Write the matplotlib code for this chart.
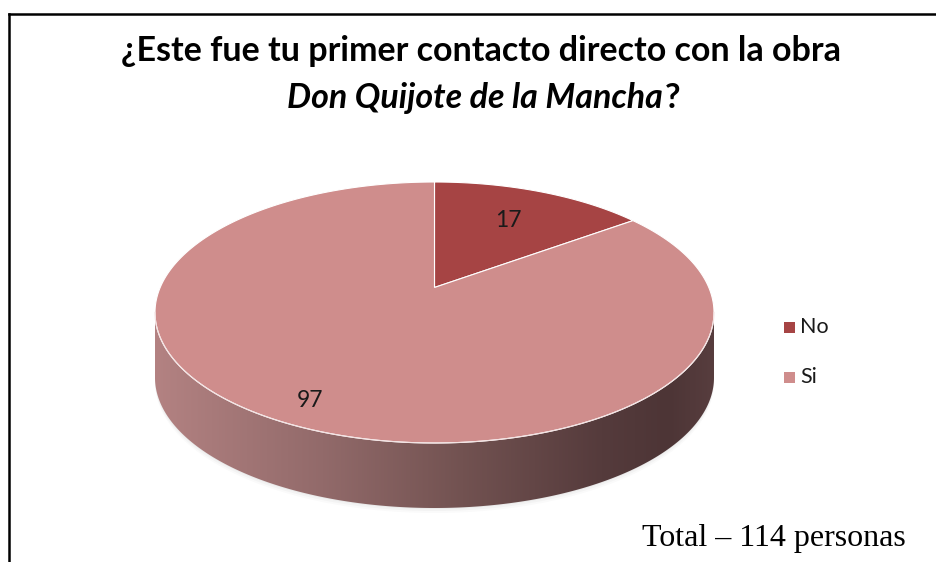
import numpy as np
import matplotlib
matplotlib.use("Agg")
import matplotlib.pyplot as plt
from matplotlib.patches import Polygon, Rectangle
from matplotlib.lines import Line2D
from matplotlib.colors import LinearSegmentedColormap

# data
categories = ["No", "Si"]
counts = [17, 97]
slice_colors = ["#A64444", "#CF8D8C"]
title_line1 = "¿Este fue tu primer contacto directo con la obra"
title_line2 = "Don Quijote de la Mancha"
total_note = "Total \u2013 114 personas"

W, H = 936, 562
fig = plt.figure(figsize=(W / 100, H / 100), dpi=100)
ax = fig.add_axes([0, 0, 1, 1])

# pie geometry in pixels
left, right, top, bottom = 155, 714, 182, 443
depth = 65
elev = np.radians(28)
dist = 4.6


def project(phi, r=1.0):
    X = r * np.sin(phi)
    Y = r * np.cos(phi)
    w = dist + Y * np.cos(elev)
    return X / w, Y * np.sin(elev) / w


full = np.linspace(0, 2 * np.pi, 1441)
px, py = project(full)
x0, x1 = px.min(), px.max()
y0, y1 = py.min(), py.max()


def to_pix(u, v):
    return (left + (u - x0) / (x1 - x0) * (right - left),
            top + (y1 - v) / (y1 - y0) * (bottom - top))


rx, ry = to_pix(px, py)

# soft shadow under the pie
for k, a in zip([5, 3, 1], [0.04, 0.06, 0.08]):
    sh = Polygon(np.column_stack([rx, ry + depth + k]), closed=True,
                 facecolor="#888888", edgecolor="none", alpha=a, zorder=1)
    ax.add_patch(sh)

# side wall with horizontal shading
iL = int(np.argmin(rx))
iR = int(np.argmax(rx))
seg = np.arange(iR, iL + 1)
wall_pts = np.vstack([
    np.column_stack([rx[seg], ry[seg]]),
    np.column_stack([rx[seg][::-1], ry[seg][::-1] + depth]),
])
wall = Polygon(wall_pts, closed=True, facecolor="none", edgecolor="none", zorder=2)
ax.add_patch(wall)
wall_cmap = LinearSegmentedColormap.from_list(
    "wall",
    [(0.0, "#B38282"), (0.3, "#926A6A"), (0.55, "#725251"),
     (0.8, "#553B3C"), (0.92, "#4D3536"), (1.0, "#573D3E")],
)
grad = np.linspace(0, 1, 256).reshape(1, -1)
img = ax.imshow(grad, extent=[left, right, bottom + depth + 2, top],
                cmap=wall_cmap, aspect="auto", zorder=2)
img.set_clip_path(wall)

# top face slices
vx, vy = to_pix(*project(0.0, 0.0))
angles = np.concatenate([[0], np.cumsum(counts)]) / sum(counts) * 2 * np.pi
for i, color in enumerate(slice_colors):
    phis = np.linspace(angles[i], angles[i + 1], 400)
    sx, sy = to_pix(*project(phis))
    pts = np.vstack([[vx, vy], np.column_stack([sx, sy])])
    ax.add_patch(Polygon(pts, closed=True, facecolor=color,
                         edgecolor="white", linewidth=0.8, zorder=3))

# thin light rim along the front edge
ax.add_line(Line2D(rx[seg], ry[seg], color="#F3E2E2", lw=0.8, zorder=4))

# data labels
label_r = [0.66, 0.86]
for i, n in enumerate(counts):
    mid = (angles[i] + angles[i + 1]) / 2
    lx, ly = to_pix(*project(mid, label_r[i]))
    ax.text(lx, ly, str(n), ha="center", va="center",
            fontsize=16.5, family="Lato", color="#1A1A1A", zorder=5)

# legend
for i, (cat, color) in enumerate(zip(categories, slice_colors)):
    yy = 327 + 50 * i
    ax.add_patch(Rectangle((784, yy - 5.5), 11, 11, facecolor=color,
                           edgecolor="none", zorder=5))
    ax.text(800, yy, cat, ha="left", va="center", fontsize=15.5,
            family="Lato", color="#1A1A1A", zorder=5)

# title
ax.text(481, 61, title_line1, ha="center", va="baseline", fontsize=24.5,
        family="Lato", fontweight="bold", color="black")
fig.canvas.draw()
renderer = fig.canvas.get_renderer()
ax.set_xlim(0, W)
ax.set_ylim(H, 0)
t_it = ax.text(0, 108, title_line2, ha="left", va="baseline", fontsize=24.5,
               family="Lato", fontweight="bold", fontstyle="italic", color="black")
t_q = ax.text(0, 108, "?", ha="left", va="baseline", fontsize=24.5,
              family="Lato", fontweight="bold", color="black")
w_it = t_it.get_window_extent(renderer).width
w_q = t_q.get_window_extent(renderer).width
start = 484 - (w_it + w_q + 2) / 2
t_it.set_x(start)
t_q.set_x(start + w_it + 2)

# footnote
ax.text(906, 546, total_note, ha="right", va="baseline", fontsize=23,
        family="Liberation Serif", color="black")

# chart border (cropped on right and bottom)
ax.add_line(Line2D([9, W + 5], [14, 14], color="black", lw=1.8, clip_on=False))
ax.add_line(Line2D([9, 9], [14, H + 5], color="black", lw=1.8, clip_on=False))

ax.set_xlim(0, W)
ax.set_ylim(H, 0)
ax.axis("off")

fig.savefig("out.png", dpi=100)
